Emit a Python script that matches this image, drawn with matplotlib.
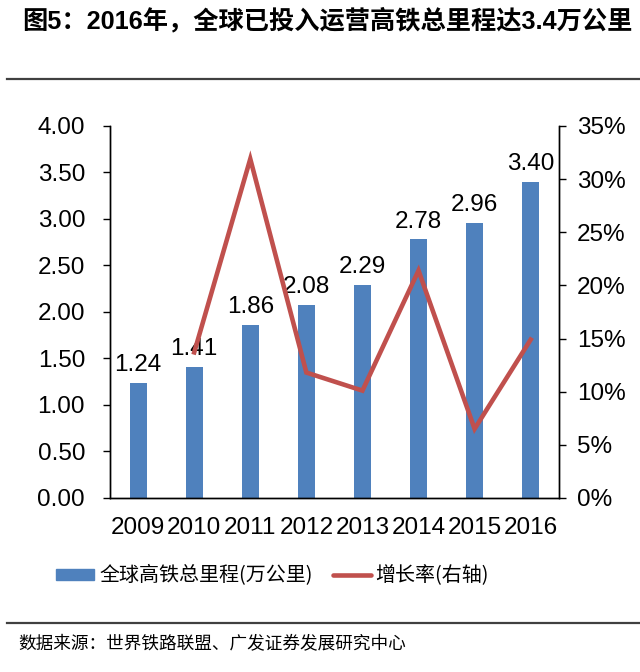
import matplotlib
matplotlib.use("Agg")
import matplotlib.pyplot as plt
from matplotlib.lines import Line2D
from matplotlib.ticker import FuncFormatter, MultipleLocator

plt.rcParams['font.family'] = ['Liberation Sans', 'Noto Sans CJK SC', 'DejaVu Sans']

years = ['2009', '2010', '2011', '2012', '2013', '2014', '2015', '2016']
mileage = [1.24, 1.41, 1.86, 2.08, 2.29, 2.78, 2.96, 3.40]
growth_years = ['2010', '2011', '2012', '2013', '2014', '2015', '2016']
growth = [13.7, 31.9, 11.8, 10.1, 21.4, 6.5, 14.9]

title = '图5：2016年，全球已投入运营高铁总里程达3.4万公里'
bar_label = '全球高铁总里程(万公里)'
line_label = '增长率(右轴)'
source = '数据来源：世界铁路联盟、广发证券发展研究中心'

bar_color = '#4F81BD'
line_color = '#C0504D'

fig = plt.figure(figsize=(6.4, 6.72), dpi=100)
ax = fig.add_axes([0.172, 0.259, 0.701, 0.5535])
ax2 = ax.twinx()

x = list(range(len(years)))
ax.bar(x, mileage, width=0.3, color=bar_color, zorder=2)
for xi, v in zip(x, mileage):
    ax.annotate(f'{v:.2f}', (xi, v), xytext=(0, 5), textcoords='offset points',
                ha='center', va='bottom', fontsize=17.5, color='black')

gx = [years.index(y) for y in growth_years]
ax2.plot(gx, growth, color=line_color, lw=3.3, solid_joinstyle='miter', zorder=3)

ax.set_xlim(-0.5, len(years) - 0.5)
ax.set_ylim(0, 4.0)
ax2.set_ylim(0, 35)
ax.yaxis.set_major_locator(MultipleLocator(0.5))
ax2.yaxis.set_major_locator(MultipleLocator(5))
ax.yaxis.set_major_formatter(FuncFormatter(lambda v, p: f'{v:.2f}'))
ax2.yaxis.set_major_formatter(FuncFormatter(lambda v, p: f'{v:.0f}%'))
ax.set_xticks(x)
ax.set_xticklabels(years)
ax.tick_params(axis='x', length=0, labelsize=17.5, pad=14)
ax.tick_params(axis='y', direction='out', length=5, width=1, labelsize=17.5, pad=13)
ax2.tick_params(axis='y', direction='out', length=5, width=1, labelsize=17.5, pad=8)

for a in (ax, ax2):
    a.spines['top'].set_visible(False)
    for s in ('left', 'right', 'bottom'):
        a.spines[s].set_color('black')
        a.spines[s].set_linewidth(1.0)
ax.set_zorder(ax2.get_zorder() - 1)
ax2.patch.set_visible(False)

# title and rules
fig.text(22 / 640, 1 - 21 / 672, title, fontsize=18.2, fontweight='bold',
         ha='left', va='center')
fig.add_artist(Line2D([7 / 640, 1.0], [1 - 79 / 672] * 2, color='#404040', lw=1.6))
fig.add_artist(Line2D([7 / 640, 1.0], [1 - 623 / 672] * 2, color='#404040', lw=1.6))
fig.text(18 / 640, 1 - 644 / 672, source, fontsize=12.7, ha='left', va='center',
         family=['Noto Sans CJK SC', 'DejaVu Sans'])

handles = [plt.Rectangle((0, 0), 1, 1, color=bar_color),
           Line2D([0], [0], color=line_color, lw=3.3, solid_capstyle='round')]
fig.legend(handles, [bar_label, line_label], ncol=2, loc='center',
           bbox_to_anchor=(0.426, 1 - 576 / 672), frameon=False,
           prop={'family': ['Noto Sans CJK SC', 'DejaVu Sans'], 'size': 14.4},
           handlelength=1.9, handleheight=0.5, handletextpad=0.25, columnspacing=1.0)

fig.savefig('out.png', dpi=100)
